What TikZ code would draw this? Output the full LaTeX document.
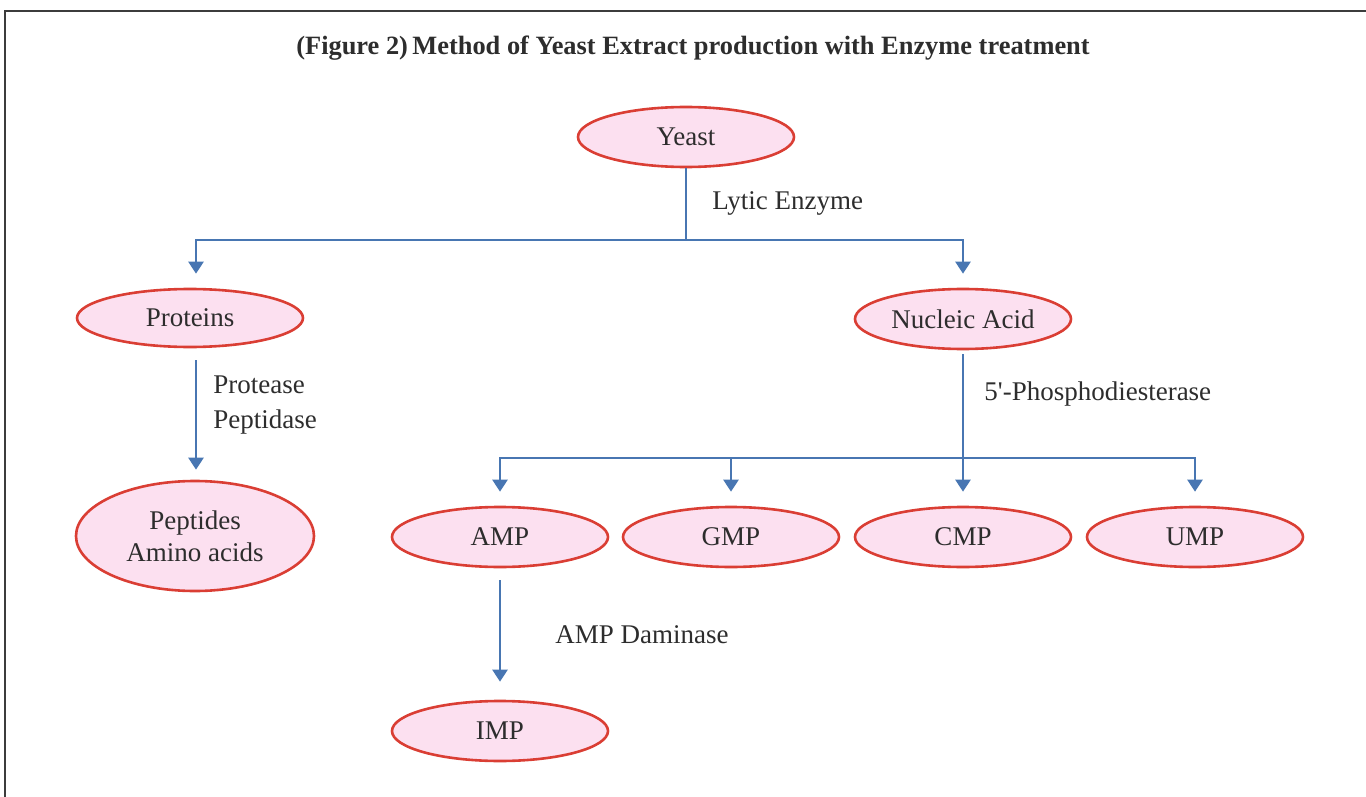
\documentclass[tikz,border=0pt]{standalone}
\usepackage{fontspec}
\setmainfont{Liberation Serif}
\usetikzlibrary{shapes.geometric,arrows.meta}
\definecolor{ellfill}{RGB}{252,224,240}
\definecolor{elldraw}{RGB}{218,62,52}
\definecolor{arrowblue}{RGB}{72,118,178}
\definecolor{txt}{RGB}{45,45,45}
\definecolor{frame}{RGB}{60,60,60}
\begin{document}
\begin{tikzpicture}[x=0.5pt,y=-0.5pt,
  bubble/.style={ellipse,draw=elldraw,fill=ellfill,line width=1.3pt,inner sep=0pt,
    minimum width=108pt,minimum height=30pt,text=txt,font=\fontsize{13.5}{16}\selectfont,align=center},
  flow/.style={draw=arrowblue,line width=1.2pt},
  arr/.style={flow,-{Triangle[width=7.5pt,length=6pt]}},
  lbl/.style={text=txt,font=\fontsize{13.5}{17.5}\selectfont,anchor=west,align=left,inner sep=0pt}]
\useasboundingbox (0,0) rectangle (1366,797);
\draw[frame,line width=1pt] (5,797) -- (5,11) -- (1366,11);
\node[font=\bfseries\fontsize{13.2}{15}\selectfont,text=txt] (title) at (693,48) {(Figure 2)\,Method of Yeast Extract production with Enzyme treatment};
\node[bubble] (yeast) at (686,137) {Yeast};
\node[bubble,minimum width=113pt,minimum height=29pt] (prot) at (190,318) {Proteins};
\node[bubble] (nuc) at (963,319) {Nucleic Acid};
\node[bubble,minimum width=119pt,minimum height=55pt] (pep) at (195,536) {Peptides\\Amino acids};
\node[bubble] (amp) at (500,537) {AMP};
\node[bubble] (gmp) at (731,537) {GMP};
\node[bubble] (cmp) at (963,537) {CMP};
\node[bubble] (ump) at (1195,537) {UMP};
\node[bubble] (imp) at (500,731) {IMP};
\coordinate (j1) at (686,240);
\coordinate (j2) at (964,458);
\draw[flow] (yeast.south) -- (j1);
\draw[arr] (j1) -| ([yshift=7pt]prot.north -| 196,0);
\draw[arr] (j1) -| ([yshift=7pt]nuc.north);
\node[lbl] (lytic) at (712,203) {Lytic Enzyme};
\draw[arr] ([yshift=-6pt]prot.south -| 196,0) -- ([yshift=5pt]pep.north -| 196,0);
\node[lbl] (prolbl) at (213,405) {Protease\\Peptidase};
\draw[arr] ([yshift=-2pt]nuc.south) -- ([yshift=7pt]cmp.north);
\node[lbl] (phos) at (984,394) {5\textquotesingle-Phosphodiesterase};
\draw[arr] (j2) -| ([yshift=7pt]amp.north);
\draw[arr] (j2) -| ([yshift=7pt]ump.north);
\draw[arr] (j2 -| gmp.north) -- ([yshift=7pt]gmp.north);
\draw[arr] ([yshift=-6pt]amp.south) -- ([yshift=9pt]imp.north);
\node[lbl] (daminase) at (555,635) {AMP Daminase};
\end{tikzpicture}
\end{document}
